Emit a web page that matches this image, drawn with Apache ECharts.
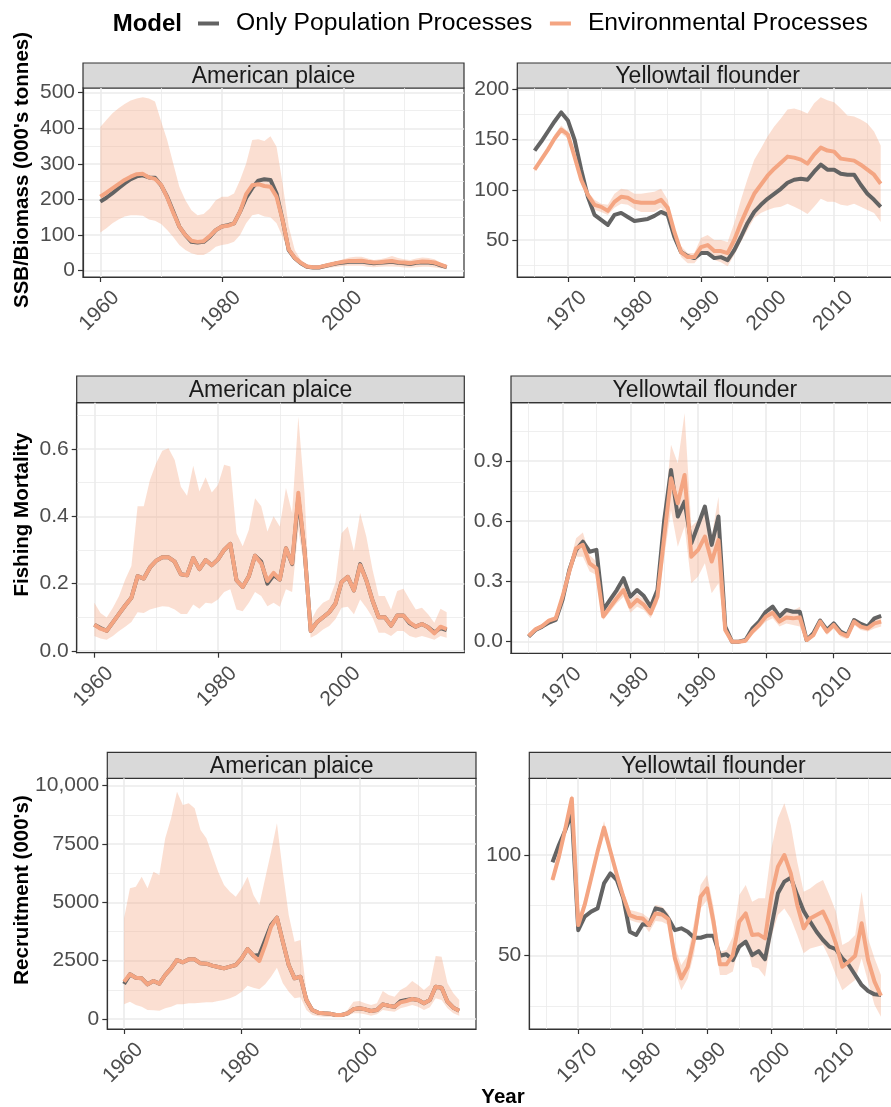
<!DOCTYPE html>
<html>
<head>
<meta charset="utf-8">
<script src="https://cdn.jsdelivr.net/npm/echarts@6/dist/echarts.min.js"></script>
<style>
html,body{margin:0;padding:0;background:#fff;overflow:hidden;}
#chart{width:900px;height:1107px;}
</style>
</head>
<body>
<div id="chart"></div>
<script>
// ---------------- DATA ----------------
const seriesNames = ['Only Population Processes', 'Environmental Processes'];
const stockNames = ['American plaice', 'Yellowtail flounder'];
const rowTitles = ["SSB/Biomass (000's tonnes)", 'Fishing Mortality', "Recruitment (000's)"];

const apStart = 1960, apEnd = 2017;
const ytStart = 1965, ytEnd = 2017;
const ytRecStart = 1966, ytRecEnd = 2017;

// American plaice SSB
const apSsbPop = [194,205,218,232,245,257,265,268,262,261, 240,208,166,124,100,81,79,81,95,114, 124,128,133,166,205,232,253,257,255,217, 142,58,35,21,11,9,9,13,17,21, 23,25,25,26,23,21,22,24,25,22, 21,19,22,24,23,21,15,10];
const apSsbEnv = [208,219,231,243,255,264,271,272,262,258, 241,206,163,124,100,84,81,83,97,114, 124,126,133,166,215,240,243,238,236,208, 142,60,36,22,12,10,10,14,18,22, 25,27,27,28,25,23,24,26,27,24, 23,21,24,26,25,23,17,11];
const apSsbHi = [404,423,442,456,468,478,484,487,484,475, 420,367,301,236,198,170,156,159,175,198, 208,208,217,255,301,367,369,364,378,348, 245,124,58,30,19,13,13,17,22,27, 32,37,39,39,34,30,32,36,41,36, 32,30,34,37,36,32,22,15];
const apSsbLo = [107,119,133,144,152,156,156,154,144,140, 131,114,95,72,58,49,44,44,53,67, 72,75,81,100,133,156,159,152,150,133, 95,53,30,16,7,4,4,7,9,11, 13,14,14,14,11,10,11,12,12,11, 9,8,10,11,11,9,7,4];

// Yellowtail flounder SSB
const ytSsbPop = [139,148,158,168,177, 169,150,120,93,75,70,65,75,77,73, 69,70,71,74,78,75,53,38,34,32, 37,37,32,33,30,40,53,67,78,85, 91,96,101,107,110,111,110,118,125,120, 120,116,115,115,105,96,90,83];
const ytSsbEnv = [120,130,140,151,160, 155,133,110,95,85,83,79,88,93,92, 88,87,87,87,90,82,58,38,33,33, 43,45,39,39,37,50,67,82,96,105, 114,121,127,133,132,130,126,135,142,139, 138,131,130,129,125,120,115,106];
const ytSsbHi = [121,131,142,155,164, 158,136,113,98,90,86,85,96,101,100, 96,96,97,98,101,90,60,44,37,37, 52,55,50,50,48,67,90,111,130,141, 153,163,171,180,181,179,176,186,192,189, 187,181,174,173,170,166,158,144];
const ytSsbLo = [118,128,137,148,156, 151,130,106,91,80,78,75,82,86,85, 81,78,78,78,82,73,53,33,27,27, 35,35,30,28,24,35,48,60,72,77, 80,82,83,86,83,80,76,83,91,88, 88,85,84,86,83,80,77,68];

// American plaice fishing mortality
const apFPop = [0.078,0.068,0.060,0.085,0.110,0.135,0.158,0.222,0.215,0.248, 0.268,0.278,0.278,0.265,0.228,0.225,0.276,0.243,0.270,0.255, 0.272,0.300,0.318,0.210,0.190,0.222,0.283,0.265,0.200,0.225, 0.212,0.305,0.258,0.455,0.300,0.060,0.085,0.100,0.115,0.140, 0.205,0.220,0.180,0.258,0.210,0.150,0.100,0.100,0.075,0.105, 0.105,0.082,0.072,0.080,0.070,0.055,0.068,0.062];
const apFEnv = [0.078,0.066,0.060,0.085,0.110,0.135,0.158,0.222,0.215,0.248, 0.268,0.278,0.278,0.265,0.228,0.225,0.276,0.243,0.270,0.255, 0.272,0.300,0.318,0.210,0.190,0.222,0.283,0.260,0.208,0.232, 0.212,0.305,0.260,0.470,0.300,0.060,0.085,0.100,0.115,0.140, 0.205,0.220,0.180,0.255,0.210,0.150,0.100,0.100,0.075,0.105, 0.105,0.085,0.072,0.080,0.070,0.052,0.072,0.065];
const apFHi = [0.143,0.113,0.099,0.128,0.163,0.212,0.252,0.430,0.430,0.508, 0.558,0.595,0.602,0.567,0.488,0.461,0.550,0.474,0.516,0.471, 0.493,0.553,0.548,0.350,0.311,0.360,0.454,0.430,0.355,0.400, 0.370,0.484,0.410,0.696,0.469,0.089,0.123,0.143,0.153,0.202, 0.350,0.370,0.296,0.410,0.340,0.242,0.163,0.163,0.123,0.178, 0.185,0.153,0.123,0.128,0.109,0.084,0.125,0.115];
const apFLo = [0.044,0.037,0.033,0.044,0.059,0.072,0.086,0.115,0.113,0.123, 0.128,0.133,0.131,0.123,0.110,0.110,0.138,0.125,0.143,0.141, 0.153,0.175,0.183,0.123,0.118,0.143,0.175,0.163,0.133,0.143, 0.131,0.183,0.175,0.360,0.242,0.039,0.049,0.064,0.074,0.094, 0.128,0.131,0.109,0.153,0.128,0.099,0.054,0.054,0.044,0.059, 0.059,0.044,0.039,0.044,0.039,0.033,0.044,0.039];

// Yellowtail flounder fishing mortality
const ytFPop = [0.025,0.058,0.075,0.095,0.108, 0.208,0.357,0.457,0.498,0.448,0.457,0.158,0.208,0.257,0.316, 0.224,0.257,0.227,0.174,0.257,0.606,0.855,0.623,0.697,0.490, 0.581,0.673,0.482,0.623,0.075,0.000,0.000,0.008,0.066,0.100, 0.149,0.174,0.125,0.158,0.149,0.149,0.008,0.042,0.105,0.058, 0.091,0.050,0.033,0.108,0.088,0.075,0.116,0.128];
const ytFEnv = [0.028,0.061,0.078,0.105,0.116, 0.224,0.349,0.465,0.482,0.390,0.365,0.125,0.171,0.216,0.257, 0.174,0.208,0.183,0.141,0.224,0.523,0.814,0.689,0.830,0.423, 0.457,0.523,0.399,0.506,0.058,0.000,0.000,0.005,0.050,0.083, 0.125,0.144,0.100,0.120,0.116,0.121,0.008,0.033,0.100,0.050, 0.083,0.042,0.028,0.100,0.075,0.066,0.091,0.100];
const ytFHi = [0.033,0.071,0.088,0.116,0.128, 0.241,0.382,0.515,0.543,0.432,0.399,0.141,0.191,0.241,0.291, 0.208,0.237,0.211,0.166,0.257,0.623,0.980,0.888,1.137,0.573, 0.606,0.656,0.523,0.722,0.075,0.005,0.005,0.012,0.066,0.100, 0.149,0.171,0.125,0.154,0.154,0.174,0.017,0.042,0.116,0.066, 0.100,0.058,0.042,0.116,0.091,0.083,0.111,0.121];
const ytFLo = [0.022,0.050,0.066,0.091,0.105, 0.208,0.320,0.423,0.423,0.349,0.332,0.108,0.149,0.191,0.224, 0.144,0.174,0.158,0.116,0.191,0.423,0.656,0.473,0.573,0.291, 0.324,0.390,0.241,0.291,0.042,0.000,0.000,0.000,0.033,0.066, 0.100,0.116,0.075,0.091,0.083,0.075,0.000,0.025,0.083,0.033, 0.066,0.025,0.012,0.083,0.058,0.050,0.066,0.075];

// American plaice recruitment
const apRecPop = [1500,1914,1771,1743,1486,1629,1514,1886,2171,2529, 2429,2557,2557,2386,2371,2286,2229,2171,2243,2314, 2600,3000,2714,2743,3386,4029,4343,3314,2314,1743, 1814,814,386,271,243,229,171,171,243,414, 457,414,343,386,629,571,529,760,820,857, 814,671,814,1386,1343,743,486,357];
const apRecEnv = [1600,1914,1771,1743,1486,1629,1514,1886,2171,2529, 2429,2557,2557,2386,2371,2286,2229,2171,2243,2314, 2600,3000,2714,2486,3171,3957,4343,3314,2314,1743, 1814,814,386,271,243,229,171,171,243,414, 457,414,343,386,629,571,529,714,771,857, 814,671,814,1386,1343,743,486,357];
const apRecHi = [4314,5600,5671,6100,5600,6314,6171,7743,8600,9743, 9171,9243,9029,8100,7743,7029,6314,5743,5457,5243, 5600,6100,5314,4886,6029,7171,8386,6314,4457,3314, 3386,1171,457,357,314,314,229,229,386,743, 771,671,600,671,1200,1029,957,1243,1386,1629, 1457,1243,1457,2700,2671,1529,1100,814];
const apRecLo = [629,743,600,529,386,371,357,457,529,629, 629,671,671,700,714,714,771,814,886,1000, 1171,1429,1343,1271,1486,1814,2200,1529,1171,886, 929,386,171,114,100,100,71,71,129,243, 243,200,143,200,386,343,314,457,529,600, 529,386,500,886,814,457,243,143];

// Yellowtail flounder recruitment
const ytRecPop = [96.4,105,112.4,120.7, 62.7,69.4,71.9,73.5,85.9,90.9,87.6,78.5,61.9,60.3, 65.6,65.2,73.5,72.7,68.5,62.7,63.6,61.9,58.9,58.9, 59.9,59.9,50.0,50.7,47.8,54.5,57.0,50.3,52.3,48.3, 64.4,81.0,86.8,88.7,80.1,72.2,66.9,61.9,57.8,54.5, 53.3,48.7,45.4,40.4,35.4,32.5,30.8,30.5];
const ytRecEnv = [87.6,99.2,113.2,128.1, 65.2,75.2,88.4,101.7,113.6,101.7,90.1,79.3,70.2,68.9, 68.5,65.2,71.0,70.5,68.2,48.7,38.7,44.5,58.6,79.3, 83.4,66.9,45.7,45.7,50.3,66.9,71.0,60.3,60.6,58.6, 80.1,94.2,100.0,90.9,75.2,63.6,68.5,70.2,71.9,65.2, 56.1,44.5,47.0,50.0,66.1,47.8,37.1,30.1];
const ytRecHi = [88.7,100.8,114.9,130.1, 68.5,78.5,90.9,104.1,116.9,104.1,92.5,81.8,72.7,71.9, 71.0,68.5,75.2,74.3,71.0,54.5,45.4,50.3,66.9,85.1, 90.1,74.3,52.0,52.8,59.4,80.1,85.1,76.8,78.5,78.5, 103.3,118.2,125.7,114.9,96.7,81.8,83.4,85.9,87.6,80.1, 71.9,55.3,57.0,60.3,81.8,58.6,48.7,40.4];
const ytRecLo = [86.4,97.5,111.3,126.2, 62.7,72.7,85.9,98.7,110.8,99.2,87.6,76.8,67.7,66.6, 66.1,61.6,67.2,66.9,65.2,42.9,32.9,38.7,51.2,73.5, 77.6,60.3,40.4,40.4,42.1,55.3,58.6,44.5,43.7,39.6, 59.4,70.2,73.5,68.5,60.3,51.2,53.6,54.5,55.3,48.7, 40.4,32.9,35.4,37.9,48.7,37.1,25.5,19.7];

// Tick values
const apXMajor = [1960,1980,2000], apXMinor = [1970,1990,2010];
const ytXMajor = [1970,1980,1990,2000,2010], ytXMinor = [1965,1975,1985,1995,2005,2015];
const apSsbTicks = [0,100,200,300,400,500], apSsbMinor = [50,150,250,350,450];
const ytSsbTicks = [50,100,150,200], ytSsbMinor = [25,75,125,175];
const apFTicks = [0,0.2,0.4,0.6], apFMinor = [0.1,0.3,0.5,0.7];
const ytFTicks = [0,0.3,0.6,0.9], ytFMinor = [0.15,0.45,0.75,1.05];
const apRecTicks = [0,2500,5000,7500,10000], apRecMinor = [1250,3750,6250,8750];
const ytRecTicks = [50,100], ytRecMinor = [25,75,125];

// ---------------- BUILD ----------------
function yearRange(a, b) { const r = []; for (let y = a; y <= b; y++) r.push(y); return r; }
const FONT = "'Liberation Sans', Arial, Helvetica, sans-serif";
const COL_POP = '#636363', COL_ENV = '#F4A582', RIB = 'rgba(244,165,130,0.36)';

const panels = [
  {years: yearRange(apStart, apEnd), pop: apSsbPop, env: apSsbEnv, lo: apSsbLo, hi: apSsbHi, xMaj: apXMajor, xMin: apXMinor, yMaj: apSsbTicks, yMin: apSsbMinor, xr: [1957.15, 2019.85], yr: [-17.7, 513.2], dec: 0, stock: 0,
   box: {left: 83, top: 88, width: 381, height: 189, stripTop: 63}},
  {years: yearRange(ytStart, ytEnd), pop: ytSsbPop, env: ytSsbEnv, lo: ytSsbLo, hi: ytSsbHi, xMaj: ytXMajor, xMin: ytXMinor, yMaj: ytSsbTicks, yMin: ytSsbMinor, xr: [1962.4, 2019.6], yr: [13.2, 201.3], dec: 0, stock: 1,
   box: {left: 517.3, top: 88, width: 380.7, height: 189, stripTop: 63}},
  {years: yearRange(apStart, apEnd), pop: apFPop, env: apFEnv, lo: apFLo, hi: apFHi, xMaj: apXMajor, xMin: apXMinor, yMaj: apFTicks, yMin: apFMinor, xr: [1957.15, 2019.85], yr: [-0.0053, 0.7376], dec: 1, stock: 0,
   box: {left: 76.7, top: 402.7, width: 387.6, height: 250, stripTop: 376}},
  {years: yearRange(ytStart, ytEnd), pop: ytFPop, env: ytFEnv, lo: ytFLo, hi: ytFHi, xMaj: ytXMajor, xMin: ytXMinor, yMaj: ytFTicks, yMin: ytFMinor, xr: [1962.4, 2019.6], yr: [-0.058, 1.190], dec: 1, stock: 1,
   box: {left: 511, top: 402.7, width: 387.8, height: 250.6, stripTop: 376}},
  {years: yearRange(apStart, apEnd), pop: apRecPop, env: apRecEnv, lo: apRecLo, hi: apRecHi, xMaj: apXMajor, xMin: apXMinor, yMaj: apRecTicks, yMin: apRecMinor, xr: [1957.15, 2019.85], yr: [-428.6, 10317], dec: 0, stock: 0,
   box: {left: 107.3, top: 778.3, width: 368.7, height: 250.7, stripTop: 752.3}},
  {years: yearRange(ytRecStart, ytRecEnd), pop: ytRecPop, env: ytRecEnv, lo: ytRecLo, hi: ytRecHi, xMaj: ytXMajor, xMin: ytXMinor, yMaj: ytRecTicks, yMin: ytRecMinor, xr: [1962.4, 2019.6], yr: [13.6, 138.1], dec: 0, stock: 1,
   box: {left: 529.3, top: 778.3, width: 368.4, height: 250.7, stripTop: 752.3}}
];

function yFmt(dec) {
  return function (v) {
    if (dec > 0) return Number(v).toFixed(dec);
    if (v >= 10000) return Number(v).toLocaleString('en-US');
    return String(v);
  };
}

const grid = [], xAxis = [], yAxis = [], series = [], graphic = [];
panels.forEach(function (p, i) {
  const b = p.box;
  grid.push({left: b.left, top: b.top, width: b.width, height: b.height, show: true,
    backgroundColor: '#fff', borderColor: '#333333', borderWidth: 1.2, containLabel: false, outerBoundsMode: 'none'});
  // major x
  xAxis.push({type: 'value', gridIndex: i, min: p.xr[0], max: p.xr[1], position: 'bottom',
    axisLine: {show: true, onZero: false, lineStyle: {color: '#333333', width: 1.2}},
    axisTick: {show: true, length: 5, lineStyle: {color: '#333333', width: 1.2}, customValues: p.xMaj},
    axisLabel: {show: true, customValues: p.xMaj, rotate: 45, margin: 33, fontSize: 21, color: '#4D4D4D', fontFamily: FONT,
      padding: [0, -22, 0, 0], formatter: function (v) { return String(v); }},
    splitLine: {show: true, lineStyle: {color: '#EBEBEB', width: 1.6}}
  });
  // minor x
  xAxis.push({type: 'value', gridIndex: i, min: p.xr[0], max: p.xr[1], position: 'top',
    axisLine: {show: false}, axisTick: {show: false, customValues: p.xMin},
    axisLabel: {show: false, customValues: p.xMin},
    splitLine: {show: true, lineStyle: {color: '#EBEBEB', width: 0.8}}
  });
  yAxis.push({type: 'value', gridIndex: i, min: p.yr[0], max: p.yr[1], position: 'left',
    axisLine: {show: true, onZero: false, lineStyle: {color: '#333333', width: 1.2}},
    axisTick: {show: true, length: 5, lineStyle: {color: '#333333', width: 1.2}, customValues: p.yMaj},
    axisLabel: {show: true, customValues: p.yMaj, margin: 8, fontSize: 21, color: '#4D4D4D', fontFamily: FONT, formatter: yFmt(p.dec)},
    splitLine: {show: true, lineStyle: {color: '#EBEBEB', width: 1.6}}
  });
  yAxis.push({type: 'value', gridIndex: i, min: p.yr[0], max: p.yr[1], position: 'right',
    axisLine: {show: false}, axisTick: {show: false, customValues: p.yMin},
    axisLabel: {show: false, customValues: p.yMin},
    splitLine: {show: true, lineStyle: {color: '#EBEBEB', width: 0.8}}
  });
  const xi = 2 * i, yi = 2 * i;
  const yrs = p.years, lo = p.lo, hi = p.hi;
  series.push({
    type: 'custom', name: 'ribbon' + i, xAxisIndex: xi, yAxisIndex: yi, silent: true,
    data: yrs.map(function (y, k) { return [y, lo[k], hi[k]]; }),
    encode: {x: 0, y: [1, 2]},
    renderItem: function (params, api) {
      if (params.dataIndex !== 0) return null;
      const pts = [];
      for (let k = 0; k < yrs.length; k++) pts.push(api.coord([yrs[k], hi[k]]));
      for (let k = yrs.length - 1; k >= 0; k--) pts.push(api.coord([yrs[k], lo[k]]));
      return {type: 'polygon', shape: {points: pts}, style: {fill: RIB}};
    }
  });
  series.push({
    type: 'line', name: seriesNames[0], xAxisIndex: xi, yAxisIndex: yi, symbol: 'none', silent: true,
    color: COL_POP, itemStyle: {color: COL_POP},
    lineStyle: {color: COL_POP, width: 4, join: 'round'},
    data: yrs.map(function (y, k) { return [y, p.pop[k]]; })
  });
  series.push({
    type: 'line', name: seriesNames[1], xAxisIndex: xi, yAxisIndex: yi, symbol: 'none', silent: true,
    color: COL_ENV, itemStyle: {color: COL_ENV},
    lineStyle: {color: COL_ENV, width: 4, join: 'round'},
    data: yrs.map(function (y, k) { return [y, p.env[k]]; })
  });
  // strip
  const sh = b.top - b.stripTop;
  graphic.push({type: 'rect', shape: {x: b.left, y: b.stripTop, width: b.width, height: sh},
    style: {fill: '#D9D9D9', stroke: '#333333', lineWidth: 1.2}, silent: true});
  graphic.push({type: 'text', x: b.left + b.width / 2, y: b.stripTop + sh / 2 + 1,
    style: {text: stockNames[p.stock], textAlign: 'center', textVerticalAlign: 'middle', fill: '#1A1A1A',
      font: '23px ' + FONT}, silent: true});
});

// row titles
const titleY = [170, 514.5, 890];
rowTitles.forEach(function (t, r) {
  graphic.push({type: 'text', x: 22, y: titleY[r], rotation: Math.PI / 2,
    style: {text: t, textAlign: 'center', textVerticalAlign: 'middle', fill: '#000', font: 'bold 20.5px ' + FONT}, silent: true});
});
graphic.push({type: 'text', x: 503, y: 1097,
  style: {text: 'Year', textAlign: 'center', textVerticalAlign: 'middle', fill: '#000', font: 'bold 20.5px ' + FONT}, silent: true});
graphic.push({type: 'text', x: 112.7, y: 24.5,
  style: {text: 'Model', textAlign: 'left', textVerticalAlign: 'middle', fill: '#000', font: 'bold 24px ' + FONT}, silent: true});

const chart = echarts.init(document.getElementById('chart'), null, {renderer: 'canvas'});
chart.setOption({
  animation: false,
  backgroundColor: '#fff',
  textStyle: {fontFamily: FONT},
  legend: {
    data: seriesNames, left: 198, top: 11, icon: 'rect', itemWidth: 21, itemHeight: 4, itemGap: 17.5,
    selectedMode: false, padding: 0,
    textStyle: {fontSize: 24.7, color: '#000', fontFamily: FONT, padding: [0, 0, 0, 12]}
  },
  grid: grid, xAxis: xAxis, yAxis: yAxis, series: series, graphic: graphic
});
</script>
</body>
</html>
